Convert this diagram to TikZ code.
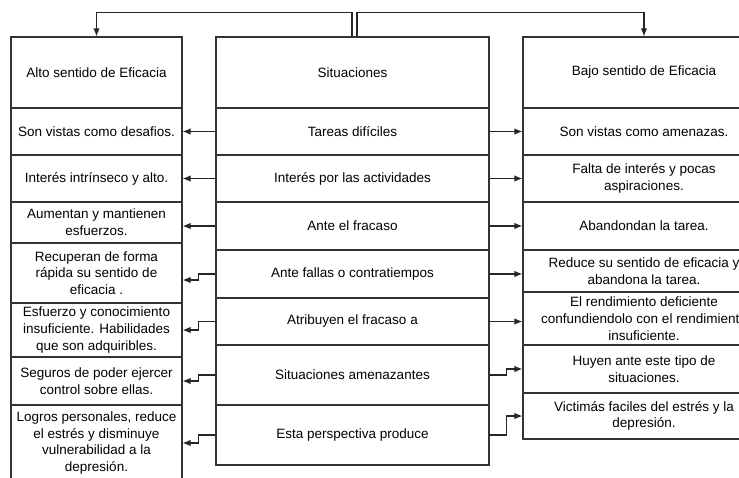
\documentclass[tikz,border=0pt]{standalone}
\usepackage{fontspec}
\setmainfont{Liberation Sans}
\usepackage{tikz}
\usetikzlibrary{arrows.meta, positioning}

\begin{document}
\begin{tikzpicture}[x=1pt, y=-1pt, line width=1.2pt,
        cell/.style={draw=black!80, rectangle, inner sep=0pt, align=center,
            font=\fontsize{13.5}{16.8}\selectfont},
        lcol/.style={cell, minimum width=171pt},
        mcol/.style={cell, minimum width=273pt},
        rcol/.style={cell, minimum width=242pt},
        conn/.style={draw=black!85, -{Latex[length=8pt, width=6.5pt]}}]
                \useasboundingbox (0, 0) rectangle (739, 477);

                % alto sentido de eficacia
                \node[lcol, minimum height=71pt] (lh) at (96.5, 72.5) {Alto sentido de Eficacia};
                \node[lcol, minimum height=47pt] (l1) at (96.5, 131.5) {Son vistas como desafios.};
                \node[lcol, minimum height=47pt] (l2) at (96.5, 178.5) {Interés intrínseco y alto.};
                \node[lcol, minimum height=41pt] (l3) at (96.5, 222.5) {Aumentan y mantienen\\esfuerzos.};
                \node[lcol, minimum height=60pt] (l4) at (96.5, 273) {Recuperan de forma\\rápida su sentido de\\eficacia .};
                \node[lcol, minimum height=54pt] (l5) at (96.5, 330) {Esfuerzo y conocimiento\\insuficiente. Habilidades\\que son adquiribles.};
                \node[lcol, minimum height=48pt] (l6) at (96.5, 381) {Seguros de poder ejercer\\control sobre ellas.};
                \node[lcol, minimum height=76pt] (l7) at (96.5, 443) {Logros personales, reduce\\el estrés y disminuye\\vulnerabilidad a la\\depresión.};

                % situaciones
                \node[mcol, minimum height=71pt] (mh) at (352.5, 72.5) {Situaciones};
                \node[mcol, minimum height=47pt] (m1) at (352.5, 131.5) {Tareas difíciles};
                \node[mcol, minimum height=47pt] (m2) at (352.5, 178.5) {Interés por las actividades};
                \node[mcol, minimum height=48pt] (m3) at (352.5, 226) {Ante el fracaso};
                \node[mcol, minimum height=48pt] (m4) at (352.5, 274) {Ante fallas o contratiempos};
                \node[mcol, minimum height=47pt] (m5) at (352.5, 321.5) {Atribuyen el fracaso a};
                \node[mcol, minimum height=60pt] (m6) at (352.5, 375) {Situaciones amenazantes};
                \node[mcol, minimum height=60pt] (m7) at (352.5, 435) {Esta perspectiva produce};

                % bajo sentido de eficacia
                \node[rcol, minimum height=71pt] (rh) at (644, 72.5) {Bajo sentido de Eficacia};
                \node[rcol, minimum height=47pt] (r1) at (644, 131.5) {Son vistas como amenazas.};
                \node[rcol, minimum height=47pt] (r2) at (644, 178.5) {Falta de interés y pocas\\aspiraciones.};
                \node[rcol, minimum height=48pt] (r3) at (644, 226) {Abandondan la tarea.};
                \node[rcol, minimum height=42pt] (r4) at (644, 271) {Reduce su sentido de eficacia y\\abandona la tarea.};
                \node[rcol, minimum height=53pt] (r5) at (644, 318.5) {El rendimiento deficiente\\confundiendolo con el rendimiento\\insuficiente.};
                \node[rcol, minimum height=48pt] (r6) at (644, 369) {Huyen ante este tipo de\\situaciones.};
                \node[rcol, minimum height=46pt] (r7) at (644, 416) {Victimás faciles del estrés y la\\depresión.};

                % from the top of situaciones to both headers
                \draw[conn] ([xshift=-0.5pt]mh.north) -- ++(0, -24) -| (lh.north);
                \draw[conn] ([xshift=4.5pt]mh.north) -- ++(0, -24) -| (rh.north);

                % rows to the left
                \draw[conn] (m1.west) -- (m1.west -| l1.east);
                \draw[conn] (m2.west) -- (m2.west -| l2.east);
                \draw[conn] (m3.west) -- (m3.west -| l3.east);
                \draw[conn] (m4.west) -- ++(-17, 0) |- ([yshift=-7pt]l4.east);
                \draw[conn] (m5.west) -- ++(-17, 0) |- (l5.east);
                \draw[conn] (m6.west) -- ++(-17, 0) |- (l6.east);
                \draw[conn] (m7.west) -- ++(-17, 0) |- (l7.east);

                % rows to the right
                \draw[conn] (m1.east) -- (m1.east -| r1.west);
                \draw[conn] (m2.east) -- (m2.east -| r2.west);
                \draw[conn] (m3.east) -- (m3.east -| r3.west);
                \draw[conn] (m4.east) -- (m4.east -| r4.west);
                \draw[conn] (m5.east) -- (m5.east -| r5.west);
                \draw[conn] (m6.east) -- ++(17, 0) |- (r6.west);
                \draw[conn] (m7.east) -- ++(17, 0) |- (r7.west);
            \end{tikzpicture}
\end{document}
